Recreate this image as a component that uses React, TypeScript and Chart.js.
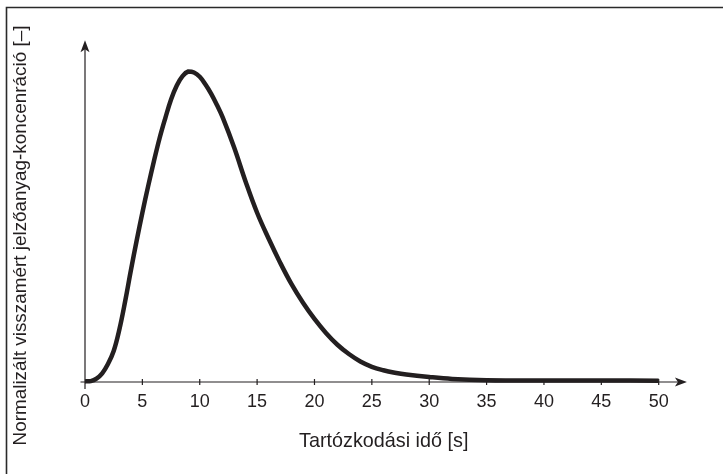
import React, { useEffect, useRef } from "react";
import { Chart, registerables } from "chart.js";

Chart.register(...registerables);

// Residence time [s]
const times = [0, 0.5, 1, 1.5, 2, 2.5, 3, 3.5, 4, 4.5, 5, 5.5, 6, 6.5, 7, 7.5, 8, 8.5, 9, 9.5, 10, 10.5, 11, 11.5, 12, 13, 14, 15, 16, 17, 18, 19, 20, 21, 22, 23, 24, 25, 26, 27, 28, 30, 32, 35, 40, 45, 50];
// Normalized tracer concentration [-]
const concentration = [0.002, 0.003, 0.011, 0.028, 0.058, 0.1, 0.17, 0.26, 0.36, 0.455, 0.545, 0.63, 0.71, 0.785, 0.85, 0.91, 0.955, 0.985, 1.0, 0.997, 0.983, 0.958, 0.928, 0.892, 0.852, 0.755, 0.645, 0.545, 0.462, 0.385, 0.315, 0.255, 0.203, 0.158, 0.12, 0.09, 0.066, 0.049, 0.038, 0.03, 0.024, 0.016, 0.01, 0.006, 0.005, 0.005, 0.004];
const xTickValues = [0, 5, 10, 15, 20, 25, 30, 35, 40, 45, 50];
const xTitle = "Tartózkodási idő [s]";
const yTitle = "Normalizált visszamért jelzőanyag-koncenráció [–]";

const FONT = '"Liberation Sans", Arial, sans-serif';
const INK = "#231f20";

const axesPlugin = {
  id: "arrowAxes",
  beforeDatasetsDraw(chart: any) {
    const ctx = chart.ctx as CanvasRenderingContext2D;
    const xs = chart.scales.x;
    const ys = chart.scales.y;
    const x0 = xs.getPixelForValue(0);
    const y0 = ys.getPixelForValue(0);
    const xEnd = xs.getPixelForValue(52.46);
    const yEnd = ys.getPixelForValue(1.101);
    ctx.save();
    // frame (top + left)
    ctx.strokeStyle = "#2a2a2a";
    ctx.lineWidth = 1.6;
    ctx.beginPath();
    ctx.moveTo(6.5, 474);
    ctx.lineTo(6.5, 7.5);
    ctx.lineTo(723, 7.5);
    ctx.stroke();

    ctx.strokeStyle = INK;
    ctx.fillStyle = INK;
    ctx.lineWidth = 1.2;
    // x axis
    ctx.beginPath();
    ctx.moveTo(x0 - 4.5, y0);
    ctx.lineTo(xEnd - 6, y0);
    ctx.stroke();
    ctx.beginPath();
    ctx.moveTo(xEnd, y0);
    ctx.lineTo(xEnd - 12, y0 - 4.5);
    ctx.lineTo(xEnd - 9, y0);
    ctx.lineTo(xEnd - 12, y0 + 4.5);
    ctx.closePath();
    ctx.fill();
    // y axis
    ctx.beginPath();
    ctx.moveTo(x0, y0 + 7);
    ctx.lineTo(x0, yEnd + 6);
    ctx.stroke();
    ctx.beginPath();
    ctx.moveTo(x0, yEnd);
    ctx.lineTo(x0 - 4.5, yEnd + 12);
    ctx.lineTo(x0, yEnd + 9);
    ctx.lineTo(x0 + 4.5, yEnd + 12);
    ctx.closePath();
    ctx.fill();
    // ticks
    xTickValues.forEach((v) => {
      if (v === 0) return;
      const px = xs.getPixelForValue(v);
      ctx.beginPath();
      ctx.moveTo(px, y0 - 3);
      ctx.lineTo(px, y0 + 3);
      ctx.stroke();
    });
    ctx.restore();
  },
  afterDraw(chart: any) {
    const ctx = chart.ctx as CanvasRenderingContext2D;
    const xs = chart.scales.x;
    const ys = chart.scales.y;
    const x0 = xs.getPixelForValue(0);
    const y0 = ys.getPixelForValue(0);
    const xEnd = xs.getPixelForValue(52.46);
    ctx.save();
    ctx.fillStyle = INK;
    ctx.font = `18px ${FONT}`;
    ctx.textAlign = "center";
    ctx.textBaseline = "alphabetic";
    xTickValues.forEach((v) => {
      ctx.fillText(String(v), xs.getPixelForValue(v), y0 + 24.5);
    });
    ctx.font = `19.8px ${FONT}`;
    ctx.fillText(xTitle, (x0 - 4.5 + xEnd) / 2, y0 + 64.5);
    ctx.font = `18.9px ${FONT}`;
    ctx.translate(26, 235.5);
    ctx.rotate(-Math.PI / 2);
    ctx.fillText(yTitle, 0, 0);
    ctx.restore();
  },
};

export default function App() {
  const ref = useRef<HTMLCanvasElement | null>(null);
  useEffect(() => {
    if (!ref.current) return;
    const chart = new Chart(ref.current, {
      type: "line",
      data: {
        datasets: [
          {
            data: times.map((t, i) => ({ x: t, y: concentration[i] })),
            borderColor: INK,
            borderWidth: 4.5,
            pointRadius: 0,
            fill: false,
            tension: 0.4,
            clip: false,
            borderCapStyle: "butt",
            borderJoinStyle: "round",
          },
        ],
      },
      options: {
        responsive: false,
        animation: false,
        events: [],
        layout: { padding: { left: 85, right: 64.3, top: 71.5, bottom: 92 } },
        plugins: { legend: { display: false }, tooltip: { enabled: false }, title: { display: false } },
        scales: {
          x: { type: "linear", min: 0, max: 50, display: false },
          y: { type: "linear", min: 0, max: 1, display: false },
        },
      },
      plugins: [axesPlugin],
    });
    return () => chart.destroy();
  }, []);
  return (
    <div style={{ position: "absolute", left: 0, top: 0, width: 723, height: 474, background: "#fff" }}>
      <canvas ref={ref} width={723} height={474} style={{ width: 723, height: 474, display: "block" }} />
    </div>
  );
}
